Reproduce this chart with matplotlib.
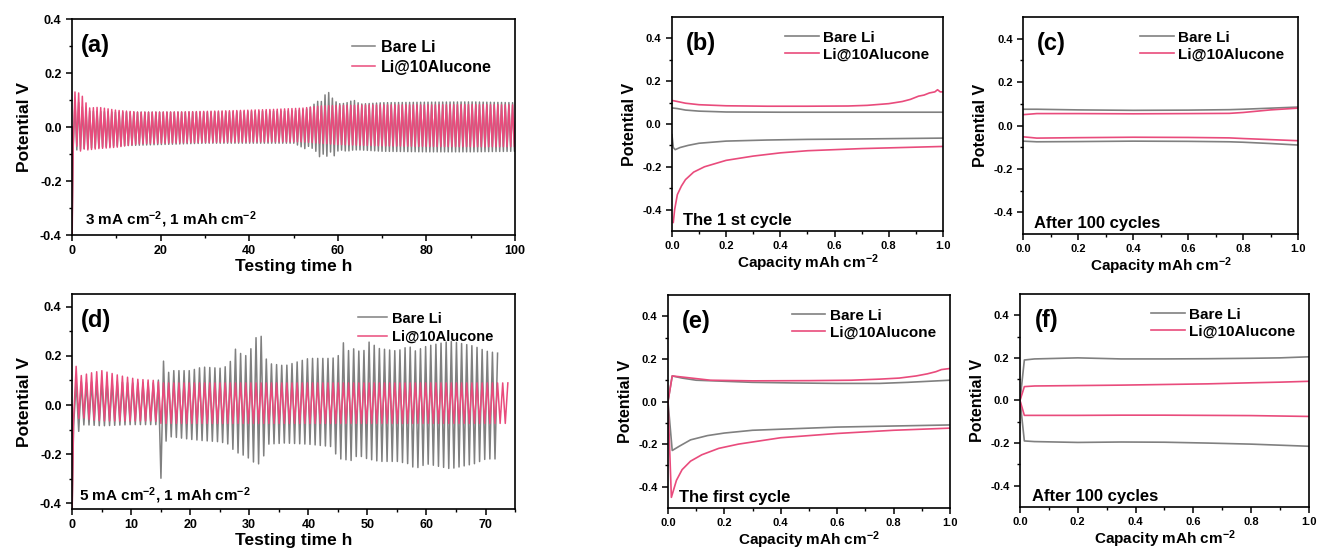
import matplotlib
matplotlib.use('Agg')
import matplotlib.pyplot as plt
import numpy as np

plt.rcParams['font.family'] = ['Liberation Sans', 'DejaVu Sans']
plt.rcParams['font.weight'] = 'bold'
plt.rcParams['axes.labelweight'] = 'bold'
plt.rcParams['axes.unicode_minus'] = False
plt.rcParams['mathtext.fontset'] = 'custom'
plt.rcParams['mathtext.rm'] = 'Liberation Sans:bold'
plt.rcParams['mathtext.it'] = 'Liberation Sans:bold'
plt.rcParams['mathtext.bf'] = 'Liberation Sans:bold'
plt.rcParams['mathtext.default'] = 'rm'

GRAY = '#808080'
PINK = '#e94b7c'

# ---- (a) 3 mA cm-2 cycling, envelopes
period_a = 0.83
end_a = 100.0
first_dip_a = -0.40
ta_pink = [0, 0.5, 1.0, 1.8, 2.5, 3.5, 6, 10, 15, 25, 35, 45, 52, 56, 60, 70, 80, 90, 100]
up_a_pink = [0.10, 0.12, 0.16, 0.10, 0.12, 0.07, 0.073, 0.062, 0.055, 0.056, 0.06, 0.065, 0.07,
             0.078, 0.08, 0.082, 0.082, 0.083, 0.082]
lo_a_pink = [-0.06, -0.09, -0.07, -0.09, -0.08, -0.085, -0.08, -0.075, -0.062, -0.058, -0.056,
             -0.055, -0.055, -0.06, -0.065, -0.07, -0.072, -0.073, -0.073]
ta_gray = [0, 1, 3, 10, 30, 50, 52.5, 53.5, 55, 55.8, 56.6, 57.4, 58.2, 59, 59.8, 60.6, 62,
           63.5, 65, 70, 80, 90, 100]
up_a_gray = [0.08, 0.10, 0.06, 0.055, 0.055, 0.06, 0.065, 0.07, 0.09, 0.10, 0.09, 0.14, 0.12,
             0.10, 0.09, 0.085, 0.09, 0.10, 0.085, 0.09, 0.092, 0.093, 0.09]
lo_a_gray = [-0.08, -0.085, -0.08, -0.07, -0.06, -0.06, -0.08, -0.07, -0.09, -0.11, -0.10,
             -0.11, -0.09, -0.11, -0.09, -0.085, -0.09, -0.085, -0.085, -0.09, -0.092, -0.092, -0.09]

# ---- (d) 5 mA cm-2 cycling
period_d = 0.87
end_d_pink = 73.5
end_d_gray = 72.3
first_dip_d = -0.42
td_pink = [0, 0.6, 1.5, 3, 5, 8, 11, 14, 15, 20, 30, 40, 50, 60, 70, 73.5]
up_d_pink = [0.10, 0.16, 0.12, 0.13, 0.14, 0.12, 0.105, 0.10, 0.09, 0.09, 0.09, 0.09, 0.09,
             0.09, 0.09, 0.09]
lo_d_pink = [-0.06, -0.06, -0.05, -0.06, -0.065, -0.065, -0.065, -0.065, -0.075, -0.075,
             -0.075, -0.075, -0.075, -0.075, -0.075, -0.075]
td_gray = [0, 1, 2, 5, 10, 14.5, 15.0, 15.5, 16, 17, 20, 22, 25, 26.5, 27.5, 28.5, 29.5, 30.5,
           31.2, 32, 33, 36, 40, 44, 45, 46, 47, 48, 49, 50, 52, 55, 57, 58, 60, 62, 64, 66,
           68, 70, 72.3]
up_d_gray = [0.08, 0.10, 0.09, 0.10, 0.09, 0.09, 0.17, 0.18, 0.13, 0.14, 0.14, 0.155, 0.15,
             0.16, 0.23, 0.21, 0.20, 0.24, 0.28, 0.28, 0.17, 0.16, 0.19, 0.19, 0.20, 0.26, 0.21,
             0.24, 0.20, 0.26, 0.23, 0.22, 0.24, 0.22, 0.24, 0.25, 0.26, 0.25, 0.24, 0.22, 0.21]
lo_d_gray = [-0.08, -0.11, -0.08, -0.085, -0.08, -0.08, -0.30, -0.20, -0.13, -0.13, -0.14,
             -0.145, -0.15, -0.16, -0.19, -0.20, -0.21, -0.23, -0.24, -0.24, -0.16, -0.155,
             -0.16, -0.17, -0.22, -0.22, -0.23, -0.21, -0.21, -0.22, -0.23, -0.23, -0.24, -0.26,
             -0.24, -0.25, -0.26, -0.25, -0.24, -0.22, -0.22]

# ---- (b) first cycle, 3 mA
b_gray_up_x = [0, 0.02, 0.05, 0.1, 0.2, 0.4, 0.6, 0.8, 1.0]
b_gray_up_y = [0.075, 0.072, 0.065, 0.06, 0.056, 0.055, 0.055, 0.055, 0.055]
b_gray_lo_x = [0, 0.005, 0.012, 0.03, 0.06, 0.1, 0.2, 0.35, 0.5, 0.7, 1.0]
b_gray_lo_y = [-0.05, -0.11, -0.12, -0.11, -0.10, -0.09, -0.08, -0.075, -0.072, -0.07, -0.066]
b_pink_up_x = [0, 0.02, 0.05, 0.1, 0.2, 0.35, 0.5, 0.65, 0.72, 0.8, 0.85, 0.88, 0.91, 0.93,
               0.95, 0.97, 0.98, 0.99, 1.0]
b_pink_up_y = [0.11, 0.105, 0.097, 0.09, 0.085, 0.083, 0.083, 0.084, 0.087, 0.095, 0.105,
               0.115, 0.13, 0.135, 0.145, 0.15, 0.16, 0.15, 0.15]
b_pink_lo_x = [0.005, 0.01, 0.02, 0.035, 0.05, 0.08, 0.12, 0.2, 0.3, 0.4, 0.5, 0.6, 0.7, 0.85, 1.0]
b_pink_lo_y = [-0.46, -0.40, -0.33, -0.29, -0.26, -0.225, -0.20, -0.17, -0.15, -0.135, -0.125,
               -0.12, -0.115, -0.11, -0.105]

# ---- (c) after 100 cycles, 3 mA
c_x = [0, 0.05, 0.2, 0.4, 0.6, 0.75, 0.8, 0.9, 1.0]
c_gray_up = [0.075, 0.075, 0.072, 0.07, 0.071, 0.073, 0.075, 0.08, 0.085]
c_gray_lo = [-0.072, -0.075, -0.074, -0.072, -0.073, -0.075, -0.077, -0.083, -0.09]
c_pink_up = [0.05, 0.055, 0.055, 0.054, 0.055, 0.056, 0.06, 0.072, 0.08]
c_pink_lo = [-0.052, -0.058, -0.056, -0.054, -0.055, -0.057, -0.06, -0.065, -0.07]

# ---- (e) first cycle, 5 mA
e_gray_up_x = [0, 0.015, 0.05, 0.1, 0.2, 0.3, 0.45, 0.6, 0.75, 0.85, 1.0]
e_gray_up_y = [0.0, 0.12, 0.11, 0.10, 0.095, 0.09, 0.087, 0.085, 0.085, 0.09, 0.10]
e_gray_lo_x = [0, 0.015, 0.04, 0.08, 0.14, 0.2, 0.3, 0.4, 0.6, 0.8, 1.0]
e_gray_lo_y = [0.0, -0.23, -0.21, -0.18, -0.16, -0.148, -0.135, -0.13, -0.12, -0.115, -0.11]
e_pink_up_x = [0, 0.015, 0.05, 0.15, 0.3, 0.5, 0.65, 0.75, 0.82, 0.88, 0.92, 0.95, 0.97, 1.0]
e_pink_up_y = [0.0, 0.12, 0.115, 0.10, 0.097, 0.098, 0.10, 0.105, 0.11, 0.12, 0.13, 0.14,
               0.15, 0.155]
e_pink_lo_x = [0, 0.012, 0.03, 0.05, 0.08, 0.12, 0.18, 0.25, 0.4, 0.6, 0.8, 1.0]
e_pink_lo_y = [0.0, -0.45, -0.37, -0.32, -0.28, -0.25, -0.22, -0.20, -0.17, -0.15, -0.135, -0.125]

# ---- (f) after 100 cycles, 5 mA
f_x = [0, 0.015, 0.05, 0.2, 0.35, 0.5, 0.65, 0.8, 0.9, 1.0]
f_gray_up = [0.0, 0.19, 0.195, 0.20, 0.195, 0.195, 0.196, 0.198, 0.2, 0.205]
f_gray_lo = [0.0, -0.19, -0.193, -0.197, -0.195, -0.196, -0.2, -0.205, -0.21, -0.215]
f_pink_up = [0.0, 0.065, 0.068, 0.07, 0.072, 0.075, 0.078, 0.083, 0.086, 0.09]
f_pink_lo = [0.0, -0.07, -0.07, -0.07, -0.069, -0.069, -0.07, -0.071, -0.073, -0.075]

legend_labels = ['Bare Li', 'Li@10Alucone']


def cycling(t_end, period, t_anchor, up_anchor, lo_anchor, first_dip):
    # one plating/stripping pair per period, peaks taken from the envelopes above
    starts = np.arange(0, t_end - 0.3 * period, period)
    up = np.interp(starts + 0.75 * period, t_anchor, up_anchor)
    lo = np.interp(starts + 0.25 * period, t_anchor, lo_anchor)
    t = [0.0, 0.03]
    v = [0.0, first_dip]
    for s, u, l in zip(starts, up, lo):
        t += [s + 0.3 * period, s + 0.8 * period]
        v += [l, u]
    return np.array(t), np.array(v)


def style(ax, xlim, ylim, xmaj, xmin, ymaj, ymin, tick_fs):
    ax.set_xlim(*xlim)
    ax.set_ylim(*ylim)
    ax.set_xticks(np.arange(xlim[0], xlim[1] + 1e-9, xmaj))
    ax.set_xticks(np.arange(xlim[0], xlim[1] + 1e-9, xmin), minor=True)
    ax.set_yticks(np.arange(-0.4, 0.41, ymaj))
    ax.set_yticks(np.arange(-0.4, 0.41, ymin), minor=True)
    ax.tick_params(which='major', direction='out', length=4, width=1.1, labelsize=tick_fs)
    ax.tick_params(which='minor', direction='out', length=2, width=1.0)
    for sp in ax.spines.values():
        sp.set_linewidth(1.2)


fig = plt.figure(figsize=(13.17, 5.51), dpi=100)

ax_a = fig.add_axes([0.0547, 0.5735, 0.3364, 0.392])
ax_d = fig.add_axes([0.0547, 0.0762, 0.3364, 0.390])
ax_b = fig.add_axes([0.5102, 0.5808, 0.2058, 0.3884])
ax_c = fig.add_axes([0.7768, 0.5753, 0.2088, 0.3938])
ax_e = fig.add_axes([0.5072, 0.0780, 0.2141, 0.3866])
ax_f = fig.add_axes([0.7745, 0.0799, 0.2194, 0.3866])

# (a)
tg, vg = cycling(end_a, period_a, ta_gray, up_a_gray, lo_a_gray, -0.35)
tp, vp = cycling(end_a, period_a, ta_pink, up_a_pink, lo_a_pink, first_dip_a)
ax_a.plot(tg, vg, color=GRAY, lw=1.1, label=legend_labels[0])
ax_a.plot(tp, vp, color=PINK, lw=1.1, label=legend_labels[1])
style(ax_a, (0, 100), (-0.4, 0.4), 20, 10, 0.2, 0.1, 9)
ax_a.set_xlabel('Testing time h', fontsize=12.5, labelpad=1)
ax_a.set_ylabel('Potential V', fontsize=12.5, labelpad=6)
ax_a.text(0.02, 0.93, '(a)', transform=ax_a.transAxes, fontsize=17, va='top')
ax_a.text(0.03, 0.05, '3 mA cm$^{-2}$, 1 mAh cm$^{-2}$', transform=ax_a.transAxes, fontsize=11)
ax_a.legend(loc='upper right', bbox_to_anchor=(0.98, 0.97), frameon=False, fontsize=11.5,
            handlelength=1.4, handletextpad=0.4, labelspacing=0.3)

# (d)
tg, vg = cycling(end_d_gray, period_d, td_gray, up_d_gray, lo_d_gray, -0.40)
tp, vp = cycling(end_d_pink, period_d, td_pink, up_d_pink, lo_d_pink, first_dip_d)
ax_d.plot(tg, vg, color=GRAY, lw=1.1, label=legend_labels[0])
ax_d.plot(tp, vp, color=PINK, lw=1.1, label=legend_labels[1])
style(ax_d, (0, 75), (-0.424, 0.452), 10, 5, 0.2, 0.1, 9)
ax_d.set_xticks(np.arange(0, 71, 10))
ax_d.set_xlabel('Testing time h', fontsize=12.5, labelpad=1)
ax_d.set_ylabel('Potential V', fontsize=12.5, labelpad=6)
ax_d.text(0.02, 0.93, '(d)', transform=ax_d.transAxes, fontsize=17, va='top')
ax_d.text(0.015, 0.04, '5 mA cm$^{-2}$, 1 mAh cm$^{-2}$', transform=ax_d.transAxes, fontsize=11)
ax_d.legend(loc='upper right', bbox_to_anchor=(0.98, 0.98), frameon=False, fontsize=10.5,
            handlelength=2.0, handletextpad=0.3, labelspacing=0.3)

# (b), (c), (e), (f)
profiles = [
    (ax_b, '(b)', 'The 1 st cycle',
     [(b_gray_up_x, b_gray_up_y, GRAY), (b_gray_lo_x, b_gray_lo_y, GRAY),
      (b_pink_up_x, b_pink_up_y, PINK), (b_pink_lo_x, b_pink_lo_y, PINK)]),
    (ax_c, '(c)', 'After 100 cycles',
     [(c_x, c_gray_up, GRAY), (c_x, c_gray_lo, GRAY),
      (c_x, c_pink_up, PINK), (c_x, c_pink_lo, PINK)]),
    (ax_e, '(e)', 'The first cycle',
     [(e_gray_up_x, e_gray_up_y, GRAY), (e_gray_lo_x, e_gray_lo_y, GRAY),
      (e_pink_up_x, e_pink_up_y, PINK), (e_pink_lo_x, e_pink_lo_y, PINK)]),
    (ax_f, '(f)', 'After 100 cycles',
     [(f_x, f_gray_up, GRAY), (f_x, f_gray_lo, GRAY),
      (f_x, f_pink_up, PINK), (f_x, f_pink_lo, PINK)]),
]
for ax, tag, note, curves in profiles:
    for i, (x, y, c) in enumerate(curves):
        lab = None
        if i == 0:
            lab = legend_labels[0]
        elif i == 2:
            lab = legend_labels[1]
        ax.plot(x, y, color=c, lw=1.2, label=lab)
    style(ax, (0, 1.0), (-0.5, 0.5), 0.2, 0.1, 0.2, 0.1, 8)
    ax.set_xlabel('Capacity mAh cm$^{-2}$', fontsize=11, labelpad=1)
    ax.set_ylabel('Potential V', fontsize=11.5, labelpad=4)
    ax.text(0.05, 0.93, tag, transform=ax.transAxes, fontsize=17, va='top')
    ax.text(0.04, 0.03, note, transform=ax.transAxes, fontsize=12)
    ax.legend(loc='upper right', bbox_to_anchor=(1.0, 1.0), frameon=False, fontsize=11,
              handlelength=2.2, handletextpad=0.3, labelspacing=0.2)

fig.savefig('out.png', dpi=100)
